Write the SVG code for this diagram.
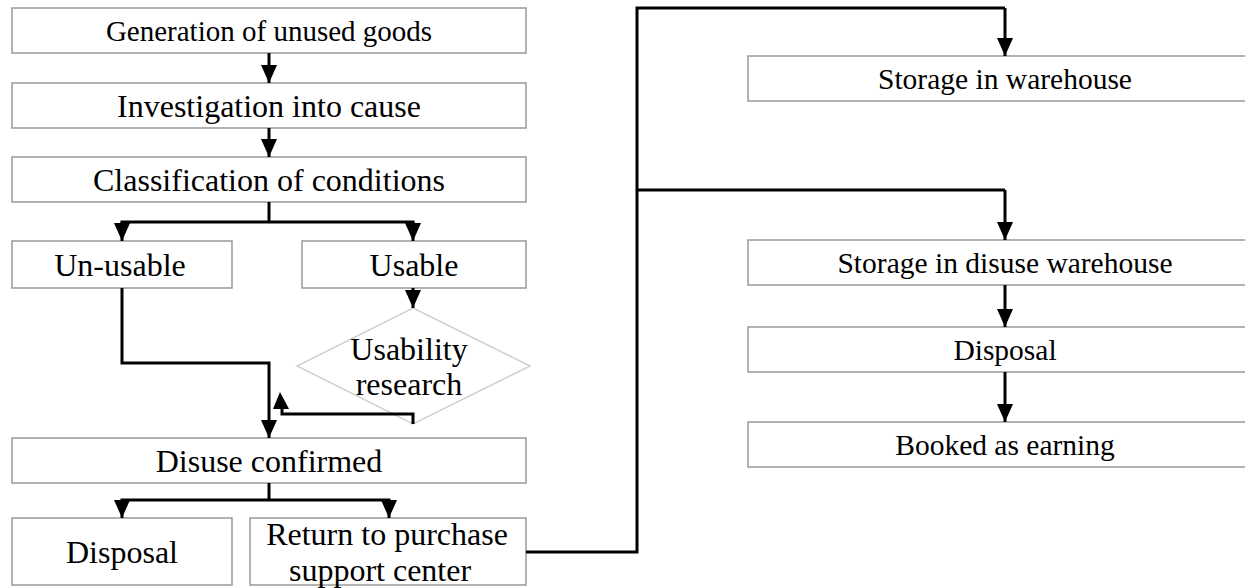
<svg xmlns="http://www.w3.org/2000/svg" width="1245" height="588" viewBox="0 0 1245 588">
<defs>
<marker id="arr" markerWidth="16" markerHeight="18" refX="8" refY="18" orient="0" markerUnits="userSpaceOnUse" viewBox="0 0 16 18">
<path d="M0,0 L16,0 L8,18 Z" fill="#000"/>
</marker>
</defs>
<style>
.box{fill:#fff;stroke:#999;stroke-width:1.5}
.dia{fill:#fff;stroke:#d0d0d0;stroke-width:1.5}
text{font-family:'Liberation Serif','Times New Roman',Times,serif;fill:#000;text-anchor:middle}
.t{font-size:32px}
.ts{font-size:29px}
.tr{font-size:29.5px}
.c{fill:none;stroke:#000;stroke-width:3}
.ca{fill:none;stroke:#000;stroke-width:3;marker-end:url(#arr)}
</style>
<rect width="1245" height="588" fill="#fff"/>

<g id="n1"><rect class="box" x="12" y="8" width="514" height="45"/><text class="ts" x="269" y="40.5">Generation of unused goods</text></g>
<g id="n2"><rect class="box" x="12" y="83" width="514" height="45"/><text class="t" x="269" y="116.5">Investigation into cause</text></g>
<g id="n3"><rect class="box" x="12" y="157" width="514" height="45"/><text class="t" x="269" y="190.5">Classification of conditions</text></g>
<g id="n4"><rect class="box" x="12" y="241" width="220" height="47"/><text class="t" x="120" y="275.5">Un-usable</text></g>
<g id="n5"><rect class="box" x="302" y="241" width="224" height="47"/><text class="t" x="414" y="275.5">Usable</text></g>
<g id="n6"><polygon class="dia" points="413,308 530,366 413,424 297,366"/><text class="t" x="409" y="360">Usability</text><text class="t" x="409" y="395">research</text></g>
<g id="n7"><rect class="box" x="12" y="438" width="514" height="45"/><text class="t" x="269" y="471.5">Disuse confirmed</text></g>
<g id="n8"><rect class="box" x="12" y="518" width="220" height="67"/><text class="t" x="122" y="563">Disposal</text></g>
<g id="n9"><rect class="box" x="250" y="518" width="276" height="67"/><text class="t" x="387" y="545">Return to purchase</text><text class="t" x="380" y="581">support center</text></g>
<g id="n10"><rect class="box" x="748" y="56" width="514" height="45"/><text class="tr" x="1005" y="88.5">Storage in warehouse</text></g>
<g id="n11"><rect class="box" x="748" y="240" width="514" height="45"/><text class="tr" x="1005" y="272.5">Storage in disuse warehouse</text></g>
<g id="n12"><rect class="box" x="748" y="327" width="514" height="45"/><text class="tr" x="1005" y="359.5">Disposal</text></g>
<g id="n13"><rect class="box" x="748" y="422" width="514" height="45"/><text class="tr" x="1005" y="454.5">Booked as earning</text></g>

<g id="connectors">
<path class="ca" d="M269,53 V83"/>
<path class="ca" d="M269,128 V157"/>
<path class="c" d="M269,202 V222 M120.5,222 H414.5"/>
<path class="ca" d="M122,222 V241"/>
<path class="ca" d="M413,222 V241"/>
<path class="ca" d="M413,288 V308"/>
<path class="ca" d="M122,288 V363 H269 V438"/>
<path class="c" d="M413,424 V414 H282 V406"/>
<path d="M273,409 L289,409 L280,392 Z" fill="#000"/>
<path class="c" d="M269,483 V500 M120.5,500 H390.5"/>
<path class="ca" d="M122,500 V518"/>
<path class="ca" d="M389,500 V518"/>
<path class="c" d="M526,552 H637 V8 H1005"/>
<path class="ca" d="M1005,8 V56"/>
<path class="c" d="M637,190 H1005"/>
<path class="ca" d="M1005,190 V240"/>
<path class="ca" d="M1005,285 V327"/>
<path class="ca" d="M1005,372 V422"/>
</g>
</svg>
